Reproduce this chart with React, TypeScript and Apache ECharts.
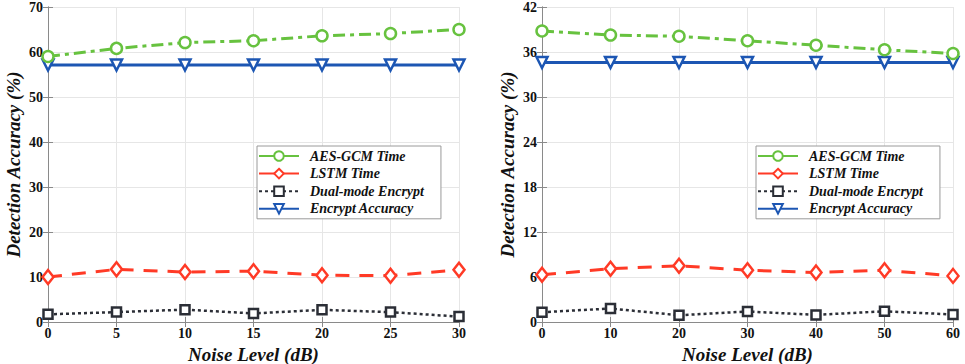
import React, { useEffect, useRef } from "react";
import * as echarts from "echarts";

const noiseLeft = [0, 5, 10, 15, 20, 25, 30];
const aesLeft = [59.0, 60.8, 62.1, 62.5, 63.6, 64.1, 65.0];
const lstmLeft = [10.0, 11.7, 11.1, 11.3, 10.4, 10.3, 11.6];
const dualLeft = [1.7, 2.2, 2.75, 1.9, 2.7, 2.2, 1.2];
const accLeft = [57.1, 57.1, 57.1, 57.1, 57.1, 57.1, 57.1];

const noiseRight = [0, 10, 20, 30, 40, 50, 60];
const aesRight = [38.8, 38.26, 38.1, 37.5, 36.9, 36.3, 35.8];
const lstmRight = [6.3, 7.1, 7.5, 6.9, 6.6, 6.9, 6.15];
const dualRight = [1.3, 1.8, 0.9, 1.4, 0.95, 1.43, 1.0];
const accRight = [34.6, 34.6, 34.6, 34.6, 34.6, 34.6, 34.6];

const seriesNames = ["AES-GCM Time", "LSTM Time", "Dual-mode Encrypt", "Encrypt Accuracy"];
const xAxisName = "Noise Level (dB)";
const yAxisName = "Detection Accuracy (%)";

const GREEN = "#67c23f";
const RED = "#ff3a26";
const DARK = "#2b2e36";
const BLUE = "#1c56b3";
const SERIF = "Times New Roman, Liberation Serif, serif";

function pairs(xs: number[], ys: number[]) {
  return xs.map((x, i) => [x, ys[i]]);
}

export default function App() {
  const ref = useRef<HTMLDivElement>(null);
  useEffect(() => {
    if (!ref.current) return;
    const chart = echarts.init(ref.current, undefined, { renderer: "svg" });
    const axisGray = "#8a8a8a";
    const tickLabel = { color: "#111", fontFamily: SERIF, fontWeight: "bold" as const, fontSize: 14 };
    const nameStyle = {
      color: "#111",
      fontFamily: SERIF,
      fontWeight: "bold" as const,
      fontStyle: "italic" as const,
      fontSize: 19,
    };
    const grids = [
      { left: 48, top: 7, width: 411, height: 315 },
      { left: 542, top: 7, width: 411, height: 315 },
    ];
    const xCfg = [
      { max: 30, interval: 5 },
      { max: 60, interval: 10 },
    ];
    const yCfg = [
      { max: 70, interval: 10 },
      { max: 42, interval: 6 },
    ];
    const xAxis: any[] = [];
    const yAxis: any[] = [];
    [0, 1].forEach((g) => {
      xAxis.push({
        type: "value",
        gridIndex: g,
        min: 0,
        max: xCfg[g].max,
        interval: xCfg[g].interval,
        position: "bottom",
        name: xAxisName,
        nameLocation: "middle",
        nameGap: 13,
        nameTextStyle: nameStyle,
        axisLine: { show: true, lineStyle: { color: axisGray, width: 1 } },
        axisTick: { show: true, inside: true, length: 5, lineStyle: { color: axisGray } },
        axisLabel: { ...tickLabel, margin: 4 },
        splitLine: { show: true, lineStyle: { color: "#e6e6e6", width: 1 } },
      });
      yAxis.push({
        type: "value",
        gridIndex: g,
        min: 0,
        max: yCfg[g].max,
        interval: yCfg[g].interval,
        position: "left",
        name: yAxisName,
        nameLocation: "middle",
        nameGap: 25,
        nameTextStyle: nameStyle,
        axisLine: { show: true, lineStyle: { color: axisGray, width: 1 } },
        axisTick: { show: true, inside: true, length: 5, lineStyle: { color: axisGray } },
        axisLabel: { ...tickLabel, margin: 5 },
        splitLine: { show: true, lineStyle: { color: "#e6e6e6", width: 1 } },
      });
    });
    [0, 1].forEach((g) => {
      xAxis.push({
        type: "value",
        gridIndex: g,
        min: 0,
        max: xCfg[g].max,
        interval: xCfg[g].interval,
        position: "top",
        axisLine: { show: true, lineStyle: { color: axisGray, width: 1 } },
        axisTick: { show: true, inside: true, length: 5, lineStyle: { color: axisGray } },
        axisLabel: { show: false },
        splitLine: { show: false },
      });
      yAxis.push({
        type: "value",
        gridIndex: g,
        min: 0,
        max: yCfg[g].max,
        interval: yCfg[g].interval,
        position: "right",
        axisLine: { show: true, lineStyle: { color: axisGray, width: 1 } },
        axisTick: { show: true, inside: true, length: 5, lineStyle: { color: axisGray } },
        axisLabel: { show: false },
        splitLine: { show: false },
      });
    });

    const datasets = [
      [aesLeft, lstmLeft, dualLeft, accLeft],
      [aesRight, lstmRight, dualRight, accRight],
    ];
    const xs = [noiseLeft, noiseRight];
    const styles = [
      { color: GREEN, type: [12, 5, 4, 5], width: 3, symbol: "circle", size: 11 },
      { color: RED, type: [14, 10], width: 3, symbol: "diamond", size: [11, 14] },
      { color: DARK, type: [3, 3], width: 2.5, symbol: "rect", size: 9 },
      { color: BLUE, type: "solid", width: 3, symbol: "triangle", size: 11 },
    ];
    const series: any[] = [];
    [0, 1].forEach((g) => {
      seriesNames.forEach((name, i) => {
        const s = styles[i];
        series.push({
          type: "line",
          name,
          xAxisIndex: g,
          yAxisIndex: g,
          data: pairs(xs[g], datasets[g][i]),
          symbol: s.symbol,
          symbolSize: s.size,
          symbolRotate: s.symbol === "triangle" ? 180 : 0,
          showAllSymbol: true,
          lineStyle: { color: s.color, type: s.type, width: s.width },
          itemStyle: { color: "#fff", borderColor: s.color, borderWidth: 2.5 },
          z: i === 3 ? 3 : 4,
        });
      });
    });

    const legendData = seriesNames.map((name, i) => ({
      name,
      lineStyle: { type: i === 2 ? [3, 3] : "solid" },
    }));
    const legendBase = {
      orient: "vertical",
      top: 146,
      backgroundColor: "#fff",
      borderColor: "#9a9a9a",
      borderWidth: 1,
      borderRadius: 0,
      padding: [3, 17, 3, 1],
      itemWidth: 40,
      itemHeight: 12,
      itemGap: 3.6,
      data: legendData,
      textStyle: {
        color: "#111",
        fontFamily: SERIF,
        fontWeight: "bold",
        fontStyle: "italic",
        fontSize: 14,
        lineHeight: 12,
        padding: [0, 0, 0, 6],
      },
      selectedMode: false,
    };

    chart.setOption({
      animation: false,
      backgroundColor: "#fff",
      grid: grids.map((g) => ({ ...g, show: false, containLabel: false, outerBoundsMode: "none" })),
      xAxis,
      yAxis,
      legend: [
        { ...legendBase, left: 257 },
        { ...legendBase, left: 756 },
      ],
      series,
    });
    return () => chart.dispose();
  }, []);
  return (
    <div
      ref={ref}
      style={{ position: "absolute", left: 0, top: 0, width: 965, height: 364 }}
    />
  );
}
